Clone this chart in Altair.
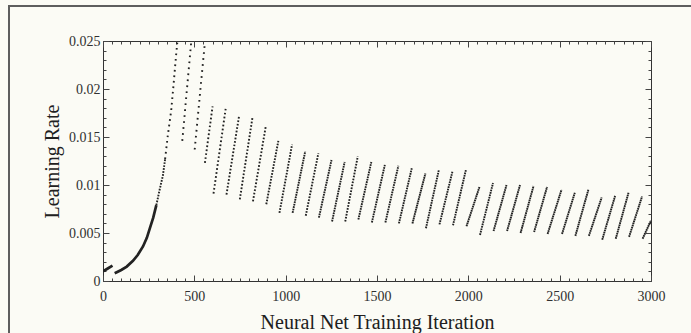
import math
import altair as alt
import pandas as pd

# ---------------- data ----------------
x_major = [0, 500, 1000, 1500, 2000, 2500, 3000]
y_major = [0, 0.005, 0.01, 0.015, 0.02, 0.025]
x_minor = list(range(0, 3001, 50))
y_minor = [i / 1000 for i in range(0, 26)]

# first short warm-up segment (dense, looks solid)
seg1_iter = [0, 26, 52]
seg1_lr = [0.0010, 0.0013, 0.0016]

# long exponential ramp
ramp_iter = [64, 100, 130, 164, 190, 219, 240, 255, 275, 292, 310, 328, 340, 355, 373, 386, 400, 415, 432]
ramp_lr = [0.0008, 0.00115, 0.0015, 0.0021, 0.0027, 0.0036, 0.0045, 0.0054, 0.0066, 0.0079,
           0.0095, 0.0110, 0.0127, 0.0152, 0.0177, 0.0204, 0.0235, 0.0265, 0.0295]

# saw-tooth cycles: start iteration, end iteration, learning rate at start, at end
stroke_start = [434, 502, 558, 605, 676, 749, 821, 894, 966, 1038, 1110, 1182, 1254, 1326, 1398,
                1472, 1546, 1620, 1694, 1768, 1842, 1916, 1990, 2064, 2138, 2212, 2286, 2360,
                2434, 2513, 2586, 2660, 2733, 2807, 2880, 2954]
stroke_end = [500, 556, 600, 672, 745, 818, 891, 960, 1035, 1107, 1179, 1251, 1323, 1395, 1469,
              1543, 1617, 1691, 1765, 1839, 1913, 1987, 2061, 2135, 2209, 2283, 2357, 2431,
              2510, 2583, 2657, 2730, 2804, 2877, 2951, 3000]
stroke_low = [0.0146, 0.0137, 0.0123, 0.0091, 0.0090, 0.0085, 0.0083, 0.0080, 0.0071, 0.0071,
              0.0068, 0.0066, 0.0062, 0.0062, 0.0064, 0.0061, 0.0061, 0.0060, 0.0060, 0.0055,
              0.0059, 0.0058, 0.0057, 0.0048, 0.0052, 0.0052, 0.0050, 0.0051, 0.0049, 0.0049,
              0.0047, 0.0047, 0.0043, 0.0044, 0.0046, 0.0044]
stroke_high = [0.0285, 0.0245, 0.0182, 0.0180, 0.0172, 0.0170, 0.0161, 0.0146, 0.0142, 0.0135,
               0.0133, 0.0126, 0.0124, 0.0130, 0.0124, 0.0121, 0.0120, 0.0118, 0.0112, 0.0116,
               0.0114, 0.0116, 0.0098, 0.0102, 0.0100, 0.0100, 0.0099, 0.0098, 0.0095, 0.0092,
               0.0095, 0.0087, 0.0089, 0.0092, 0.0088, 0.0063]

# ---------------- layout ----------------
W, H = 548, 240
X_MAX, Y_MAX = 3000, 0.025
FONT = "Liberation Serif"
INK = "#222222"

xscale = alt.Scale(domain=[0, X_MAX], nice=False, zero=False)
yscale = alt.Scale(domain=[0, Y_MAX], nice=False, zero=False)


def dash_key(i0, i1, l0, l1):
    """dot spacing of a piece (samples every 3 iterations) -> dash key"""
    length = math.hypot((i1 - i0) * W / X_MAX, (l1 - l0) * H / Y_MAX)
    dots = max((i1 - i0) / 3.0, 1)
    period = max(2.2, round(2 * length / dots) / 2)
    return f"{period:.1f}"


solid_rows = []
for it, lr in zip(seg1_iter, seg1_lr):
    solid_rows.append({"id": "s1", "iter": it, "lr": lr})
split = ramp_iter.index(292)
for it, lr in zip(ramp_iter[:split + 1], ramp_lr[:split + 1]):
    solid_rows.append({"id": "r1", "iter": it, "lr": lr})
df_solid = pd.DataFrame(solid_rows)

dot_rows = []
mid = ramp_iter.index(340)
for pid, a, b in [("r2", split, mid), ("r3", mid, len(ramp_iter) - 1)]:
    key = dash_key(ramp_iter[a], ramp_iter[b], ramp_lr[a], ramp_lr[b])
    for j in range(a, b + 1):
        dot_rows.append({"id": pid, "iter": ramp_iter[j], "lr": ramp_lr[j], "dash": key})
for k, (s, e, lo, hi) in enumerate(zip(stroke_start, stroke_end, stroke_low, stroke_high)):
    key = dash_key(s, e, lo, hi)
    dot_rows.append({"id": f"k{k}", "iter": s, "lr": lo, "dash": key})
    dot_rows.append({"id": f"k{k}", "iter": e, "lr": hi, "dash": key})
df_dots = pd.DataFrame(dot_rows)

dash_domain = sorted(df_dots["dash"].unique(), key=float)
dash_range = [[1.7, float(d) - 1.7] for d in dash_domain]

label_x_axis = alt.Axis(orient="bottom", values=x_major, format="d", ticks=False, tickSize=0,
                        domain=False, grid=False, labelFlush=False, labelOverlap=False,
                        labelFont=FONT, labelFontSize=14, labelColor="#303030", labelPadding=8,
                        title="Neural Net Training Iteration", titleFont=FONT, titleFontSize=20,
                        titleFontWeight="normal", titleColor="#202020", titlePadding=9)
label_y_axis = alt.Axis(orient="left", values=y_major, format="~g", ticks=False, tickSize=0,
                        domain=False, grid=False, labelFlush=False, labelOverlap=False,
                        labelFont=FONT, labelFontSize=14, labelColor="#303030", labelPadding=3,
                        title="Learning Rate", titleFont=FONT, titleFontSize=20,
                        titleFontWeight="normal", titleColor="#202020", titlePadding=6)

dots = alt.Chart(df_dots).mark_line(clip=True, color=INK, strokeWidth=1.9).encode(
    x=alt.X("iter:Q", scale=xscale, axis=label_x_axis),
    y=alt.Y("lr:Q", scale=yscale, axis=label_y_axis),
    detail="id:N",
    strokeDash=alt.StrokeDash("dash:N", scale=alt.Scale(domain=dash_domain, range=dash_range),
                              legend=None),
)

solid = alt.Chart(df_solid).mark_line(clip=True, color=INK, strokeWidth=2.7).encode(
    x=alt.X("iter:Q", scale=xscale, axis=None),
    y=alt.Y("lr:Q", scale=yscale, axis=None),
    detail="id:N",
)


def tick_axis(orient, values, size):
    return alt.Axis(orient=orient, values=values, offset=-size, tickSize=size, ticks=True,
                    labels=False, domain=False, grid=False, title=None,
                    tickColor="#444444", tickWidth=1)


def tick_layer(xo, yo, size, xv, yv):
    return alt.Chart(df_solid).mark_point(opacity=0).encode(
        x=alt.X("iter:Q", scale=xscale, axis=tick_axis(xo, xv, size)),
        y=alt.Y("lr:Q", scale=yscale, axis=tick_axis(yo, yv, size)),
    )


frame_df = pd.DataFrame({"k": [0]})
frame_left = alt.Chart(frame_df).mark_rule(color="#5e5e5e", strokeWidth=2).encode(
    x=alt.value(-94), y=alt.value(-35), y2=alt.value(320))
frame_top = alt.Chart(frame_df).mark_rule(color="#5e5e5e", strokeWidth=2).encode(
    x=alt.value(-95), x2=alt.value(700), y=alt.value(-35))

chart = alt.layer(
    frame_left, frame_top,
    dots, solid,
    tick_layer("bottom", "left", 6, x_major, y_major),
    tick_layer("bottom", "left", 3, x_minor, y_minor),
    tick_layer("top", "right", 6, x_major, y_major),
    tick_layer("top", "right", 3, x_minor, y_minor),
).resolve_axis(x="independent", y="independent").properties(
    width=W, height=H,
    autosize=alt.AutoSizeParams(type="none"),
    padding={"left": 103, "top": 41, "right": 40, "bottom": 52},
    background="#fbfbf5",
).configure_view(stroke="#333333", strokeWidth=1)

chart.save("out.html", embed_options={"renderer": "svg", "actions": False})
